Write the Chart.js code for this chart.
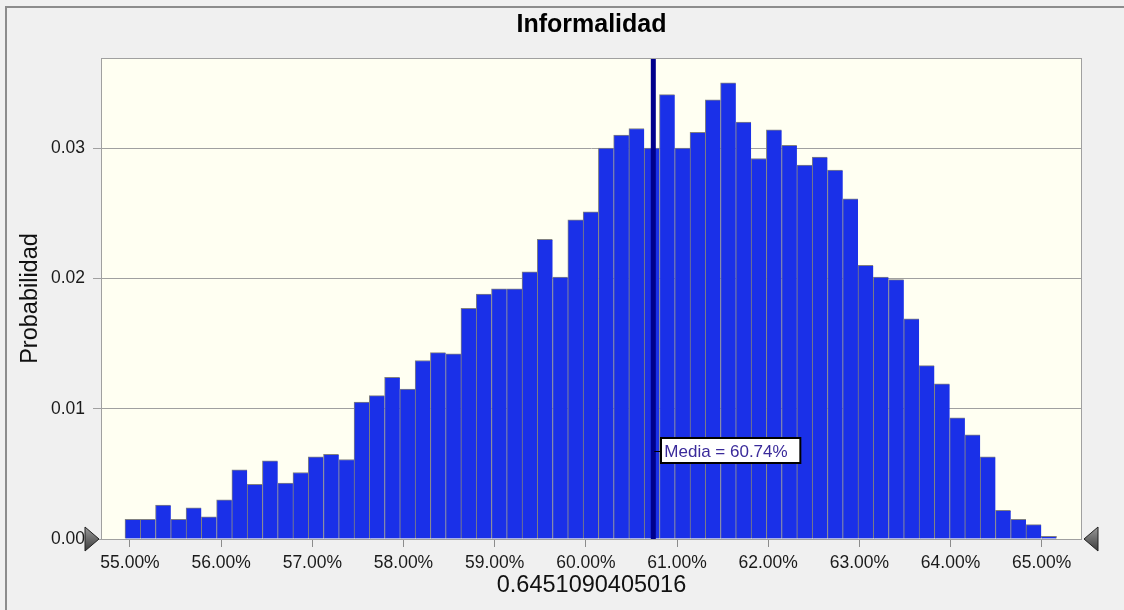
<!DOCTYPE html>
<html>
<head>
<meta charset="utf-8">
<title>Informalidad</title>
<script src="https://cdn.jsdelivr.net/npm/chart.js@4.4.0/dist/chart.umd.min.js"></script>
<style>
    body { margin: 0; background: #f0f0f0; }
    #chart { display: block; }
</style>
</head>
<body>
<canvas id="chart" width="1124" height="610"></canvas>
<script>
// Histogram data
const binStart = 54.945;   // lower edge of first bin, in %
const binWidth = 0.1675;   // bin width, in %
const probabilities = [
    0.0015, 0.0015, 0.0026, 0.0015, 0.0024, 0.0017, 0.0030, 0.0053, 0.0042, 0.0060,
    0.0043, 0.0051, 0.0063, 0.0065, 0.0061, 0.0105, 0.0110, 0.0124, 0.0115, 0.0137,
    0.0143, 0.0142, 0.0177, 0.0188, 0.0192, 0.0192, 0.0205, 0.0230, 0.0201, 0.0245,
    0.0251, 0.0300, 0.0310, 0.0315, 0.0300, 0.0341, 0.0300, 0.0312, 0.0337, 0.0350,
    0.0320, 0.0292, 0.0314, 0.0302, 0.0287, 0.0293, 0.0283, 0.0261, 0.0210, 0.0201,
    0.0199, 0.0169, 0.0133, 0.0119, 0.0093, 0.0080, 0.0063, 0.0022, 0.0015, 0.0011,
    0.0002
];
const meanValue = 60.74;
const meanLabel = 'Media = 60.74%';
const chartTitle = 'Informalidad';
const xTitle = '0.6451090405016';
const yTitle = 'Probabilidad';

const FONT = '"Liberation Sans", Arial, sans-serif';

// bar points: bin centre on a linear x axis
const points = probabilities.map((p, i) => ({ x: binStart + (i + 0.5) * binWidth, y: p }));
const lastIndex = points.length - 1;

// background, frame and plot area fill
const backdrop = {
    id: 'backdrop',
    beforeDraw(chart) {
        const { ctx, chartArea: a, width, height } = chart;
        ctx.save();
        ctx.fillStyle = '#f0f0f0';
        ctx.fillRect(0, 0, width, height);
        ctx.fillStyle = '#8c8c8c';
        ctx.fillRect(5, 6, width - 5, 2);
        ctx.fillRect(5, 6, 2, height - 6);
        ctx.fillStyle = '#fffff2';
        ctx.fillRect(a.left, a.top, a.right - a.left, a.bottom - a.top);
        ctx.restore();
    },
    afterDraw(chart) {
        const { ctx, chartArea: a } = chart;
        ctx.save();
        ctx.strokeStyle = '#a0a0a0';
        ctx.lineWidth = 1;
        ctx.strokeRect(a.left + 0.5, a.top + 0.5, a.right - a.left - 1, a.bottom - a.top);
        // scroll markers at the axis ends
        const y = a.bottom;
        const tri = (tipX, baseX) => {
            const g = ctx.createLinearGradient(0, y - 12, 0, y + 12);
            g.addColorStop(0, '#9a9a9a');
            g.addColorStop(1, '#3a3a3a');
            ctx.beginPath();
            ctx.moveTo(tipX, y);
            ctx.lineTo(baseX, y - 12);
            ctx.lineTo(baseX, y + 12);
            ctx.closePath();
            ctx.fillStyle = g;
            ctx.fill();
            ctx.strokeStyle = '#202020';
            ctx.lineWidth = 1;
            ctx.stroke();
        };
        tri(a.left - 2, a.left - 16);
        tri(a.right + 2, a.right + 16);
        ctx.restore();
    }
};

// vertical mean line with its label
const meanMarker = {
    id: 'meanMarker',
    afterDatasetsDraw(chart) {
        const { ctx, chartArea: a, scales } = chart;
        const x = scales.x.getPixelForValue(meanValue);
        ctx.save();
        ctx.fillStyle = '#00008c';
        ctx.fillRect(x - 2.5, a.top, 5, a.bottom - a.top);

        const ly = a.top + (a.bottom - a.top) * 0.817;
        const bx = x + 8;
        ctx.font = '17px ' + FONT;
        const w = ctx.measureText(meanLabel).width + 16;
        const h = 25;
        ctx.strokeStyle = '#000';
        ctx.lineWidth = 1;
        ctx.beginPath();
        ctx.moveTo(x + 1, Math.round(ly) + 0.5);
        ctx.lineTo(bx, Math.round(ly) + 0.5);
        ctx.stroke();
        ctx.fillStyle = '#ffffff';
        ctx.fillRect(Math.round(bx), Math.round(ly - h / 2), w, h);
        ctx.lineWidth = 2;
        ctx.strokeRect(Math.round(bx), Math.round(ly - h / 2), w, h);
        ctx.fillStyle = '#3a2a9a';
        ctx.textBaseline = 'middle';
        ctx.fillText(meanLabel, bx + 3, ly + 1);
        ctx.restore();
    }
};

new Chart(document.getElementById('chart'), {
    type: 'bar',
    data: {
        datasets: [{
            data: points,
            backgroundColor: '#1a30e8',
            borderColor: '#808080',
            borderWidth: (c) => ({ top: 1, left: 1, right: c.dataIndex === lastIndex ? 1 : 0, bottom: 0 }),
            barPercentage: 1,
            categoryPercentage: 1
        }]
    },
    options: {
        responsive: false,
        animation: false,
        layout: { padding: { left: 0, right: 42, top: 0, bottom: 0 } },
        plugins: {
            legend: { display: false },
            tooltip: { enabled: false },
            title: {
                display: true,
                text: chartTitle,
                fullSize: false,
                color: '#000',
                font: { family: FONT, size: 25, weight: 'bold' },
                padding: { top: 10, bottom: 18 }
            }
        },
        scales: {
            x: {
                type: 'linear',
                offset: false,
                min: 54.682,
                max: 65.442,
                afterFit(scale) { scale.height = 71; },
                border: { display: false },
                grid: { offset: false, drawOnChartArea: false, drawTicks: true, tickLength: 8, color: '#8c8c8c' },
                ticks: {
                    stepSize: 1,
                    includeBounds: false,
                    autoSkip: false,
                    maxRotation: 0,
                    padding: 6,
                    color: '#1a1a1a',
                    font: { family: FONT, size: 17.5 },
                    callback: (v) => v.toFixed(2) + '%'
                },
                title: {
                    display: true,
                    text: xTitle,
                    color: '#111',
                    font: { family: FONT, size: 23.5 },
                    padding: { top: 0, bottom: 10 }
                }
            },
            y: {
                min: 0,
                max: 0.03691,
                afterFit(scale) { scale.width = 101; },
                border: { display: false },
                grid: { color: '#a0a0a0', tickLength: 8 },
                ticks: {
                    stepSize: 0.01,
                    includeBounds: false,
                    padding: 8,
                    color: '#1a1a1a',
                    font: { family: FONT, size: 17.5 },
                    callback: (v) => v.toFixed(2)
                },
                title: {
                    display: true,
                    text: yTitle,
                    color: '#111',
                    font: { family: FONT, size: 23.5 },
                    padding: { top: 16, bottom: 0 }
                }
            }
        }
    },
    plugins: [backdrop, meanMarker]
});
</script>
</body>
</html>
